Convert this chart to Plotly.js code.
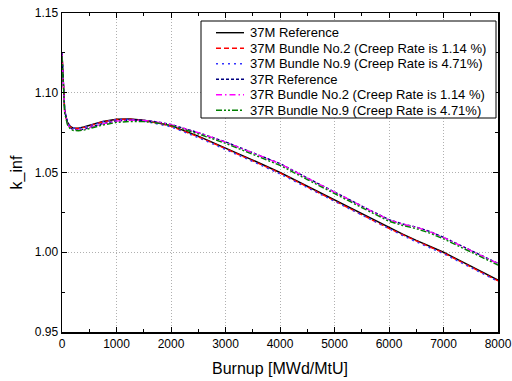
<!DOCTYPE html>
<html>
<head>
<meta charset="utf-8">
<script src="https://cdn.plot.ly/plotly-3.0.1.min.js"></script>
<style>html,body{margin:0;padding:0;background:#fff;}#chart{width:512px;height:381px;}</style>
</head>
<body>
<div id="chart"></div>
<script>
const burnup = [0, 25, 50, 100, 150, 200, 300, 400, 500, 750, 1000, 1250, 1500, 1750, 2000, 2500, 3000, 3500, 4000, 4500, 5000, 5500, 6000, 6250, 6500, 6750, 7000, 7500, 8000];

const ref37M = [1.125, 1.100, 1.088, 1.0815, 1.0790, 1.0780, 1.0778, 1.0785, 1.0795, 1.0820, 1.0834, 1.0836, 1.0828, 1.0813, 1.0794, 1.0728, 1.0654, 1.0578, 1.0500, 1.0414, 1.0326, 1.0240, 1.0153, 1.0114, 1.0074, 1.0037, 1.0000, 0.9913, 0.9825];
const b2_37M = [1.125, 1.099, 1.087, 1.0810, 1.0786, 1.0777, 1.0776, 1.0783, 1.0793, 1.0818, 1.0832, 1.0834, 1.0825, 1.0810, 1.0790, 1.0724, 1.0650, 1.0574, 1.0497, 1.0410, 1.0322, 1.0236, 1.0149, 1.0110, 1.0070, 1.0033, 0.9996, 0.9909, 0.9821];
const b9_37M = [1.125, 1.101, 1.089, 1.0818, 1.0791, 1.0779, 1.0776, 1.0783, 1.0793, 1.0818, 1.0832, 1.0833, 1.0823, 1.0806, 1.0786, 1.0719, 1.0645, 1.0569, 1.0491, 1.0405, 1.0317, 1.0231, 1.0144, 1.0105, 1.0065, 1.0028, 0.9991, 0.9904, 0.9817];
const ref37R = [1.124, 1.101, 1.089, 1.0808, 1.0780, 1.0770, 1.0767, 1.0772, 1.0782, 1.0807, 1.0823, 1.0829, 1.0827, 1.0817, 1.0801, 1.0750, 1.0692, 1.0624, 1.0556, 1.0466, 1.0376, 1.0290, 1.0204, 1.0177, 1.0158, 1.0130, 1.0094, 1.0012, 0.9930];
const b2_37R = [1.124, 1.100, 1.088, 1.0805, 1.0778, 1.0768, 1.0765, 1.0770, 1.0780, 1.0805, 1.0822, 1.0828, 1.0826, 1.0816, 1.0800, 1.0749, 1.0691, 1.0623, 1.0555, 1.0465, 1.0375, 1.0289, 1.0203, 1.0176, 1.0157, 1.0129, 1.0093, 1.0011, 0.9929];
const b9_37R = [1.123, 1.099, 1.087, 1.0800, 1.0773, 1.0764, 1.0762, 1.0766, 1.0775, 1.0798, 1.0814, 1.0820, 1.0819, 1.0810, 1.0795, 1.0742, 1.0683, 1.0614, 1.0545, 1.0456, 1.0366, 1.0280, 1.0194, 1.0168, 1.0148, 1.0120, 1.0084, 1.0002, 0.9920];

const names = [
  "37M Reference",
  "37M Bundle No.2 (Creep Rate is 1.14 %)",
  "37M Bundle No.9 (Creep Rate is 4.71%)",
  "37R Reference",
  "37R Bundle No.2 (Creep Rate is 1.14 %)",
  "37R Bundle No.9 (Creep Rate is 4.71%)"
];
const series = [ref37M, b2_37M, b9_37M, ref37R, b2_37R, b9_37R];
const colors = ["#000000", "#ff0000", "#3333ff", "#000080", "#ff00ff", "#008000"];
const dashes = ["solid", "5px,3px", "2px,4px", "3px,2px", "6px,3px,1.5px,3px", "6px,2px,2px,2px,2px,2px"];

const traces = series.map((s, i) => ({
  x: burnup, y: s, name: names[i], type: "scatter", mode: "lines",
  line: {color: colors[i], width: 1.4, dash: dashes[i]}, showlegend: false
}));

// plot-area geometry (pixels) used only to place the hand-built legend
const M = {l: 62, r: 14, t: 13, b: 49};
const W = 512, H = 381;
const pw = W - M.l - M.r, ph = H - M.t - M.b;
const px = v => (v - M.l) / pw;
const py = v => (H - M.b - v) / ph;

const fam = "Liberation Sans, Arial, sans-serif";
const shapes = [{
  type: "rect", xref: "paper", yref: "paper", layer: "above",
  x0: px(201), x1: px(496), y0: py(118), y1: py(21),
  fillcolor: "#ffffff", line: {color: "#000", width: 1}
}];
const annotations = [];
names.forEach((n, i) => {
  const yc = 32.7 + 15.5 * i;
  shapes.push({
    type: "line", xref: "paper", yref: "paper", layer: "above",
    x0: px(216), x1: px(244), y0: py(yc), y1: py(yc),
    line: {color: colors[i], width: 1.4, dash: dashes[i]}
  });
  annotations.push({
    xref: "paper", yref: "paper", x: px(248), y: py(yc),
    xanchor: "left", yanchor: "middle", showarrow: false,
    text: n, font: {family: fam, size: 13, color: "#000"}
  });
});

const layout = {
  width: W, height: H,
  margin: M,
  paper_bgcolor: "#fff", plot_bgcolor: "#fff",
  font: {family: fam, size: 12, color: "#000"},
  showlegend: false,
  shapes: shapes,
  annotations: annotations,
  xaxis: {
    range: [0, 8000], dtick: 1000, tick0: 0,
    ticks: "inside", ticklen: 5, tickcolor: "#000", tickwidth: 1,
    showline: true, linecolor: "#000", linewidth: 1.5, mirror: "ticks",
    showgrid: true, gridcolor: "#b0b0b0", griddash: "1px,2px", gridwidth: 1,
    zeroline: false,
    minor: {ticks: "inside", dtick: 500, ticklen: 3, tickcolor: "#000", showgrid: false},
    title: {text: "Burnup [MWd/MtU]", font: {family: fam, size: 16}, standoff: 13},
    tickfont: {family: fam, size: 12}
  },
  yaxis: {
    range: [0.95, 1.15], dtick: 0.05, tick0: 0.95, tickformat: ".2f",
    ticks: "inside", ticklen: 5, tickcolor: "#000", tickwidth: 1,
    showline: true, linecolor: "#000", linewidth: 1.5, mirror: "ticks",
    showgrid: true, gridcolor: "#b0b0b0", griddash: "1px,2px", gridwidth: 1,
    zeroline: false,
    minor: {ticks: "inside", dtick: 0.025, ticklen: 3, tickcolor: "#000", showgrid: false},
    title: {text: "k_inf", font: {family: fam, size: 16}, standoff: 8},
    tickfont: {family: fam, size: 12}
  }
};

Plotly.newPlot("chart", traces, layout, {displayModeBar: false, staticPlot: true});
</script>
</body>
</html>
